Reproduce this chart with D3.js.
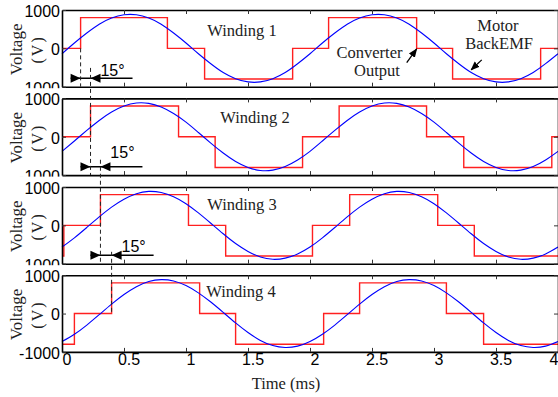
<!DOCTYPE html>
<html>
<head>
<meta charset="utf-8">
<script src="https://cdn.jsdelivr.net/npm/d3@7"></script>
<style>
  body { margin: 0; background: #fff; }
  svg { display: block; }
  .tick text { font-family: "Liberation Sans", Arial, sans-serif; font-size: 16px; fill: #000; }
  .serif { font-family: "Liberation Serif", "Times New Roman", serif; fill: #222; }
</style>
</head>
<body>
<svg id="chart" width="558" height="397"></svg>
<script>
// x grid + tick labels
var timeTicks = [0, 0.5, 1, 1.5, 2, 2.5, 3, 3.5, 4];
var timeTickLabels = ['0', '0.5', '1', '1.5', '2', '2.5', '3', '3.5', '4'];
var voltTicks = [-1000, 0, 1000];
var voltTickLabels = ['-1000', '0', '1000'];
var windingNames = ["Winding 1", "Winding 2", "Winding 3", "Winding 4"];
var sampleTimes = d3.range(41).map(function(i) { return i / 10; });

// motor back EMF, read every 0.1 ms
var emf1 = [-140, 140, 400, 630, 790, 875, 875, 790, 630, 400, 140, -140, -400, -630, -790, -875, -875, -790, -630, -400, -140,
            140, 400, 630, 790, 875, 875, 790, 630, 400, 140, -140, -400, -630, -790, -875, -875, -790, -630, -400, -140];
var emf2 = [-380, -110, 165, 425, 645, 800, 880, 870, 775, 605, 380, 110, -165, -425, -645, -800, -880, -870, -775, -605, -380,
            -110, 165, 425, 645, 800, 880, 870, 775, 605, 380, 110, -165, -425, -645, -800, -880, -870, -775, -605, -380];
var emf3 = [-565, -325, -55, 220, 475, 680, 825, 885, 855, 745, 565, 325, 55, -220, -475, -680, -825, -885, -855, -745, -565,
            -325, -55, 220, 475, 680, 825, 885, 855, 745, 565, 325, 55, -220, -475, -680, -825, -885, -855, -745, -565];
var emf4 = [-730, -540, -300, -30, 245, 495, 700, 835, 885, 850, 730, 540, 300, 30, -245, -495, -700, -835, -885, -850, -730,
            -540, -300, -30, 245, 495, 700, 835, 885, 850, 730, 540, 300, 30, -245, -495, -700, -835, -885, -850, -730];

// converter output: switching instants (ms) and levels (V)
var stepTimes1 = [0, 0.15, 0.85, 1.15, 1.86, 2.15, 2.86, 3.15, 3.86, 4];
var stepLevels1 = [0, 800, 0, -800, 0, 800, 0, -800, 0, 0];
var stepTimes2 = [0, 0.23, 0.94, 1.235, 1.94, 2.235, 2.94, 3.24, 3.95, 4];
var stepLevels2 = [0, 800, 0, -800, 0, 800, 0, -800, 0, 0];
var stepTimes3 = [0, 0.015, 0.31, 1.02, 1.32, 2.02, 2.32, 3.03, 3.325, 4];
var stepLevels3 = [-800, 0, 800, 0, -800, 0, 800, 0, -800, -800];
var stepTimes4 = [0, 0.10, 0.40, 1.11, 1.40, 2.11, 2.40, 3.10, 3.40, 4];
var stepLevels4 = [-800, 0, 800, 0, -800, 0, 800, 0, -800, -800];

var emfs = [emf1, emf2, emf3, emf4];
var stepTimes = [stepTimes1, stepTimes2, stepTimes3, stepTimes4];
var stepLevels = [stepLevels1, stepLevels2, stepLevels3, stepLevels4];

var svg = d3.select('#chart');
var panelTops = [10, 98.4, 187, 275.2];
var panelH = 76.7;
var x = d3.scaleLinear().domain([0, 4]).range([62, 558]);
var ys = panelTops.map(function(t) {
  return d3.scaleLinear().domain([-1000, 1000]).range([t + panelH, t]);
});

// arrow head for the callouts
svg.append('defs').append('marker')
    .attr('id', 'head').attr('viewBox', '0 0 10 10')
    .attr('refX', 9).attr('refY', 5)
    .attr('markerWidth', 7).attr('markerHeight', 7)
    .attr('orient', 'auto')
  .append('path').attr('d', 'M0,1 L10,5 L0,9 z').attr('fill', '#000');

var labelX = [242, 255, 242, 241];
var labelDy = [25.5, 24.6, 22.5, 22];

panelTops.forEach(function(top, i) {
  var y = ys[i];
  var g = svg.append('g');

  // white strip hides the bottom of the previous panel's -1000 label
  if (i > 0) {
    g.append('rect').attr('x', 0).attr('y', panelTops[i - 1] + panelH + 1.5)
        .attr('width', 61).attr('height', top - panelTops[i - 1] - panelH - 1.5)
        .attr('fill', '#fff');
  }

  var steps = stepTimes[i].map(function(t, j) { return [t, stepLevels[i][j]]; });
  g.append('path').datum(steps)
      .attr('fill', 'none').attr('stroke', '#ff2020').attr('stroke-width', 1.4)
      .attr('d', d3.line().x(function(d) { return x(d[0]); }).y(function(d) { return y(d[1]); })
                 .curve(d3.curveStepAfter));

  g.append('path').datum(emfs[i])
      .attr('fill', 'none').attr('stroke', '#0000ff').attr('stroke-width', 1.1)
      .attr('d', d3.line().x(function(d, j) { return x(sampleTimes[j]); }).y(function(d) { return y(d); })
                 .curve(d3.curveNatural));

  // frame with inward ticks
  var bottom = g.append('g').attr('transform', 'translate(0,' + (top + panelH) + ')')
      .call(d3.axisBottom(x).tickValues(timeTicks).tickSizeInner(-4).tickSizeOuter(0)
            .tickFormat(function(d, j) { return i === 3 ? timeTickLabels[j] : ''; }));
  bottom.selectAll('text').attr('dx', 4.5).attr('dy', 10);
  bottom.selectAll('.tick:last-of-type text').attr('text-anchor', 'end').attr('dx', 0);
  g.append('g').attr('transform', 'translate(0,' + top + ')')
      .call(d3.axisTop(x).tickValues(timeTicks).tickSizeInner(-4).tickSizeOuter(0).tickFormat(''));
  var left = g.append('g').attr('transform', 'translate(62,0)')
      .call(d3.axisLeft(y).tickValues(voltTicks).tickSizeInner(-4).tickSizeOuter(0).tickPadding(2)
            .tickFormat(function(d, j) { return voltTickLabels[j]; }));
  left.selectAll('text').attr('dy', '0.4em');
  g.append('g').attr('transform', 'translate(558,0)')
      .call(d3.axisRight(y).tickValues(voltTicks).tickSizeInner(-4).tickSizeOuter(0).tickFormat(''));
  g.selectAll('.domain').attr('stroke', '#000').attr('stroke-width', 1.6);
  g.selectAll('.tick line').attr('stroke', '#333').attr('stroke-width', 1);

  g.append('text').attr('class', 'serif')
      .attr('transform', 'translate(21.5,' + (top + panelH / 2 + 1) + ') rotate(-90)')
      .attr('text-anchor', 'middle').attr('font-size', 17).text('Voltage');
  g.append('text').attr('class', 'serif')
      .attr('transform', 'translate(43,' + (top + panelH / 2 + 1) + ') rotate(-90)')
      .attr('text-anchor', 'middle').attr('font-size', 16).attr('letter-spacing', 2).text('(V)');

  g.append('text').attr('class', 'serif')
      .attr('x', labelX[i]).attr('y', top + labelDy[i])
      .attr('text-anchor', 'middle').attr('font-size', 16.5).text(windingNames[i]);
});

// 15 degree shift markers between consecutive windings
var shiftFrom = [0.15, 0.23, 0.31];
var shiftTo = [0.23, 0.31, 0.40];
var textDy = [-2.5, -8.5, -3];
shiftFrom.forEach(function(ta, i) {
  var y = ys[i];
  var yy = y(-780);
  var xa = x(ta), xb = x(shiftTo[i]);
  svg.append('line').attr('x1', xa - 10).attr('x2', xb + 42).attr('y1', yy).attr('y2', yy)
      .attr('stroke', '#000').attr('stroke-width', 1.5);
  svg.append('path').attr('d', 'M' + (xa - 10) + ',' + (yy - 4.5) + 'L' + xa + ',' + yy + 'L' + (xa - 10) + ',' + (yy + 4.5) + 'Z')
      .attr('fill', '#000');
  svg.append('path').attr('d', 'M' + (xb + 10) + ',' + (yy - 4.5) + 'L' + xb + ',' + yy + 'L' + (xb + 10) + ',' + (yy + 4.5) + 'Z')
      .attr('fill', '#000');
  svg.append('text').attr('x', xb + 22).attr('y', yy + textDy[i])
      .attr('text-anchor', 'middle')
      .attr('font-family', '"Liberation Sans", Arial, sans-serif').attr('font-size', 16)
      .text('15°');
});

// dashed guides
var guides = [
  { t: 0.15, y1: ys[0](0), y2: ys[0](-1000) },
  { t: 0.23, y1: ys[0](-510), y2: ys[1](-1000) },
  { t: 0.31, y1: ys[1](-600), y2: ys[2](-1000) },
  { t: 0.40, y1: ys[2](-690), y2: ys[3](0) }
];
guides.forEach(function(d) {
  svg.append('line').attr('x1', x(d.t)).attr('x2', x(d.t)).attr('y1', d.y1).attr('y2', d.y2)
      .attr('stroke', '#222').attr('stroke-width', 1).attr('stroke-dasharray', '4,3');
});

// callouts in winding 1
var y1 = ys[0];
svg.append('text').attr('class', 'serif').attr('x', x(2.48)).attr('y', 57.5)
    .attr('text-anchor', 'middle').attr('font-size', 16.5).text('Converter');
svg.append('text').attr('class', 'serif').attr('x', x(2.54)).attr('y', 75.5)
    .attr('text-anchor', 'middle').attr('font-size', 16.5).text('Output');
svg.append('line').attr('x1', x(2.78)).attr('y1', y1(-375)).attr('x2', x(2.86)).attr('y2', y1(-15))
    .attr('stroke', '#000').attr('stroke-width', 1.3).attr('marker-end', 'url(#head)');

svg.append('text').attr('class', 'serif').attr('x', x(3.515)).attr('y', 30.5)
    .attr('text-anchor', 'middle').attr('font-size', 16.5).text('Motor');
svg.append('text').attr('class', 'serif').attr('x', x(3.525)).attr('y', 48.5)
    .attr('text-anchor', 'middle').attr('font-size', 16.5).text('BackEMF');
svg.append('line').attr('x1', x(3.385)).attr('y1', y1(-300)).attr('x2', x(3.30)).attr('y2', y1(-560))
    .attr('stroke', '#000').attr('stroke-width', 1.3).attr('marker-end', 'url(#head)');

svg.append('text').attr('class', 'serif').attr('x', 286).attr('y', 388.5)
    .attr('text-anchor', 'middle').attr('font-size', 16.5).text('Time (ms)');
</script>
</body>
</html>
